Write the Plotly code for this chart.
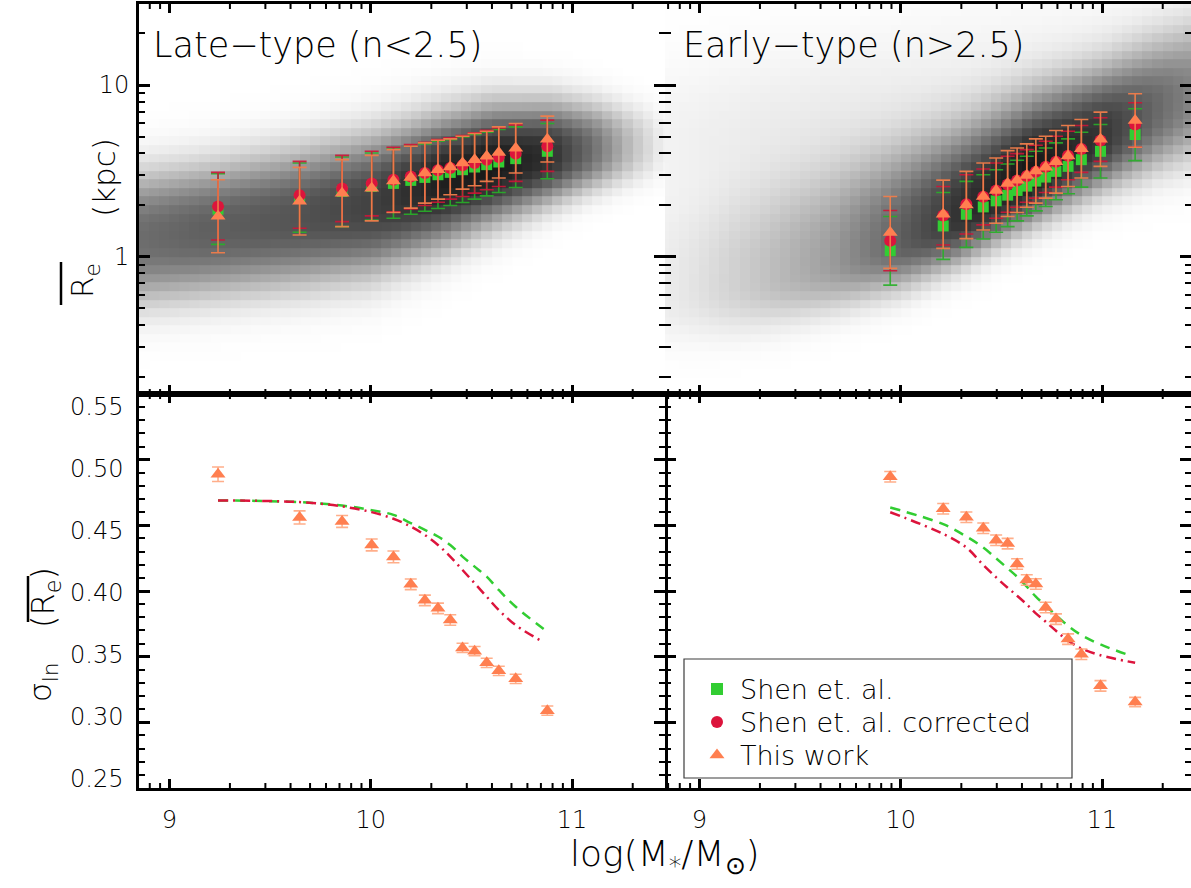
import numpy as np
import plotly.graph_objects as go

FONT = "DejaVu Sans"
WEIGHT = 300

# ---------------- stellar-mass bins, log(M*/Msun) ----------------
late_logm = [9.242, 9.647, 9.858, 10.005, 10.113, 10.199, 10.269, 10.334, 10.395,
             10.456, 10.516, 10.576, 10.636, 10.720, 10.877]
early_logm = [9.948, 10.211, 10.326, 10.410, 10.474, 10.531, 10.578, 10.626, 10.671,
              10.720, 10.771, 10.831, 10.897, 10.992, 11.164]

# ---------------- mean Re (kpc) with lower / upper 1-sigma bounds: late-type ----------------
late_shen = [1.891, 2.203, 2.399, 2.567, 2.673, 2.783, 2.897, 3.003, 3.099, 3.212, 3.330, 3.436, 3.562, 3.726, 4.111]
late_shen_hi = [3.044, 3.514, 3.810, 4.022, 4.244, 4.398, 4.539, 4.705, 4.811, 4.987, 5.147, 5.312, 5.506, 5.707, 5.969]
late_shen_lo = [1.181, 1.388, 1.497, 1.638, 1.676, 1.768, 1.841, 1.909, 1.987, 2.069, 2.164, 2.263, 2.368, 2.532, 2.846]
late_corr = [1.961, 2.284, 2.498, 2.673, 2.808, 2.937, 3.072, 3.184, 3.286, 3.406, 3.514, 3.675, 3.810, 3.985, 4.398]
late_corr_hi = [3.099, 3.594, 3.895, 4.111, 4.339, 4.498, 4.642, 4.811, 4.920, 5.077, 5.263, 5.455, 5.630, 5.862, 6.242]
late_corr_lo = [1.252, 1.465, 1.602, 1.729, 1.825, 1.900, 1.987, 2.078, 2.164, 2.243, 2.346, 2.454, 2.567, 2.746, 3.141]
late_this = [1.722, 2.107, 2.346, 2.509, 2.757, 2.897, 3.072, 3.212, 3.330, 3.514, 3.675, 3.844, 4.040, 4.281, 4.833]
late_this_hi = [2.808, 3.315, 3.675, 3.895, 4.206, 4.398, 4.601, 4.769, 4.855, 5.032, 5.217, 5.383, 5.707, 5.969, 6.588]
late_this_lo = [1.055, 1.339, 1.497, 1.617, 1.808, 1.918, 2.051, 2.164, 2.294, 2.476, 2.590, 2.746, 2.872, 3.072, 3.562]

# ---------------- mean Re (kpc) with lower / upper bounds: early-type ----------------
early_shen = [1.084, 1.511, 1.768, 1.951, 2.116, 2.284, 2.432, 2.578, 2.757, 2.910, 3.141, 3.360, 3.675, 4.111, 5.147]
early_shen_hi = [1.714, 2.368, 2.746, 3.003, 3.212, 3.467, 3.643, 3.844, 4.111, 4.300, 4.601, 4.855, 5.312, 5.888, 7.271]
early_shen_lo = [0.683, 0.965, 1.134, 1.268, 1.388, 1.497, 1.617, 1.729, 1.850, 1.961, 2.145, 2.326, 2.544, 2.872, 3.626]
early_corr = [1.240, 1.737, 2.023, 2.233, 2.432, 2.637, 2.783, 2.950, 3.127, 3.345, 3.577, 3.879, 4.244, 4.748, 5.888]
early_corr_hi = [1.858, 2.567, 3.003, 3.242, 3.514, 3.844, 3.985, 4.206, 4.459, 4.705, 5.032, 5.383, 5.808, 6.442, 7.883]
early_corr_lo = [0.828, 1.170, 1.357, 1.532, 1.676, 1.817, 1.943, 2.078, 2.193, 2.368, 2.544, 2.808, 3.099, 3.594, 4.339]
early_this = [1.384, 1.768, 2.001, 2.243, 2.427, 2.667, 2.789, 2.970, 3.155, 3.322, 3.569, 3.862, 4.253, 4.833, 6.215]
early_this_hi = [2.243, 2.795, 3.141, 3.514, 3.758, 4.148, 4.300, 4.539, 4.855, 5.032, 5.432, 5.808, 6.300, 6.952, 8.897]
early_this_lo = [0.855, 1.119, 1.274, 1.432, 1.566, 1.714, 1.808, 1.943, 2.051, 2.193, 2.346, 2.567, 2.872, 3.360, 4.339]

# ---------------- scatter sigma_ln(Re) ----------------
late_sig_this = [0.4889, 0.4560, 0.4530, 0.4351, 0.4260, 0.4051, 0.3929, 0.3868, 0.3779, 0.3567, 0.3542, 0.3453, 0.3392, 0.3331, 0.3089]
late_sig_err = [0.0055, 0.0050, 0.0045, 0.0045, 0.0045, 0.0040, 0.0040, 0.0040, 0.0040, 0.0035, 0.0035, 0.0035, 0.0035, 0.0035, 0.0035]
early_sig_this = [0.4870, 0.4626, 0.4562, 0.4478, 0.4387, 0.4361, 0.4206, 0.4084, 0.4053, 0.3875, 0.3786, 0.3634, 0.3519, 0.3278, 0.3155]
early_sig_err = [0.0040, 0.0040, 0.0040, 0.0040, 0.0040, 0.0040, 0.0040, 0.0040, 0.0040, 0.0040, 0.0040, 0.0040, 0.0040, 0.0040, 0.0035]

# model curves
late_curve_x = late_logm
late_sig_shen = [0.4690, 0.4677, 0.4651, 0.4616, 0.4580, 0.4517, 0.4466, 0.4415, 0.4351, 0.4262, 0.4186, 0.4109, 0.4008, 0.3880, 0.3690]
late_corr_curve_x = late_logm[:-1] + [10.855]
late_sig_corr = [0.4690, 0.4677, 0.4644, 0.4601, 0.4550, 0.4491, 0.4427, 0.4351, 0.4262, 0.4160, 0.4059, 0.3957, 0.3855, 0.3740, 0.3613]
early_shen_curve_x = early_logm[:-1] + [11.147]
early_sig_shen = [0.4636, 0.4509, 0.4415, 0.4331, 0.4249, 0.4173, 0.4109, 0.4033, 0.3957, 0.3888, 0.3817, 0.3735, 0.3664, 0.3593, 0.3504]
early_curve_x = early_logm
early_sig_corr = [0.4600, 0.4435, 0.4331, 0.4198, 0.4104, 0.4025, 0.3964, 0.3898, 0.3830, 0.3766, 0.3697, 0.3621, 0.3563, 0.3511, 0.3453]

# ---------------- background galaxy density (ridge profile read per mass column) ----------------
# centre (log Re), lower / upper widths (dex) and peak darkness of the grey ridge
late_dens_x = [8.85, 9.15, 9.6, 10.0, 10.35, 10.6, 10.9, 11.1, 11.3, 11.45]
late_dens_c = [0.11, 0.15, 0.22, 0.30, 0.44, 0.53, 0.59, 0.62, 0.64, 0.65]
late_dens_wlo = [0.28, 0.28, 0.29, 0.30, 0.28, 0.25, 0.20, 0.17, 0.15, 0.14]
late_dens_whi = [0.28, 0.28, 0.29, 0.30, 0.28, 0.26, 0.23, 0.20, 0.17, 0.15]
late_dens_a = [0.60, 0.65, 0.70, 0.78, 0.92, 0.95, 0.85, 0.60, 0.25, 0.06]

early_dens_x = [8.85, 9.0, 9.3, 9.65, 10.0, 10.3, 10.65, 11.0, 11.3, 11.45]
early_dens_c = [-0.20, -0.18, -0.12, -0.03, 0.10, 0.24, 0.48, 0.69, 0.86, 0.93]
early_dens_wlo = [0.22, 0.22, 0.22, 0.21, 0.21, 0.20, 0.21, 0.22, 0.25, 0.27]
early_dens_whi = [0.40, 0.40, 0.42, 0.42, 0.40, 0.38, 0.34, 0.30, 0.30, 0.30]
early_dens_a = [0.08, 0.12, 0.24, 0.40, 0.66, 0.85, 0.95, 0.82, 0.58, 0.48]
early_halo_c = [0.70, 0.72, 0.78, 0.85, 0.95, 1.05, 1.15, 1.20, 1.25, 1.25]
early_halo_a = [0.05, 0.06, 0.07, 0.07, 0.06, 0.05, 0.04, 0.04, 0.04, 0.04]

# legend entries
legend_names = ["Shen et. al.", "Shen et. al. corrected", "This work"]

GREEN = "rgb(50,205,50)"
RED = "rgb(220,20,60)"
ORANGE = "rgb(255,127,80)"

# ---------------- layout geometry ----------------
W, H = 1191, 888
ML, MR, MT, MB = 139, 0, 4, 100
PW, PH = W - ML - MR, H - MT - MB
YSPLIT = 0.5025
XSPLIT_PX = ML + 0.5 * PW
YSPLIT_PX = H - MB - YSPLIT * PH


def xp(px):
    return (px - ML) / PW


def yp(py):
    return (H - MB - py) / PH


def density(kx, kc, kwlo, kwhi, ka, hc=None, ha=None):
    xe = np.arange(8.80, 11.5001, 0.05)
    ye = np.arange(-0.85, 1.5001, 0.05)
    xc = 0.5 * (xe[1:] + xe[:-1])
    yc = 0.5 * (ye[1:] + ye[:-1])
    c = np.interp(xc, kx, kc)[None, :]
    wlo = np.interp(xc, kx, kwlo)[None, :]
    whi = np.interp(xc, kx, kwhi)[None, :]
    a = np.interp(xc, kx, ka)[None, :]
    dy = yc[:, None] - c
    d = np.where(dy > 0, dy / whi, -dy / wlo)
    z = a * np.exp(-0.5 * d ** 2.5)
    if hc is not None:
        hcc = np.interp(xc, kx, hc)[None, :]
        haa = np.interp(xc, kx, ha)[None, :]
        z = z + haa * np.exp(-0.5 * ((yc[:, None] - hcc) / 0.3) ** 2)
    return xe, 10 ** ye, np.clip(z, 0, 1)


fig = go.Figure()
GRAY = [[0, "rgb(255,255,255)"], [1, "rgb(12,12,12)"]]

for (kx, kc, kwl, kwh, ka, hc, ha), (xa, ya) in [
    ((late_dens_x, late_dens_c, late_dens_wlo, late_dens_whi, late_dens_a, None, None), ("x", "y")),
    ((early_dens_x, early_dens_c, early_dens_wlo, early_dens_whi, early_dens_a, early_halo_c, early_halo_a), ("x2", "y2")),
]:
    xe, ye, z = density(kx, kc, kwl, kwh, ka, hc, ha)
    fig.add_trace(go.Heatmap(x=xe, y=ye, z=z, colorscale=GRAY, zmin=0, zmax=1,
                             showscale=False, hoverinfo="skip", xaxis=xa, yaxis=ya))


def err_trace(x, y, hi, lo, name, sym, size, col, ecol, xa, ya):
    return go.Scatter(
        x=x, y=y, mode="markers", name=name, showlegend=False,
        marker=dict(symbol=sym, size=size, color=col, opacity=1, line=dict(width=0)),
        error_y=dict(type="data", symmetric=False,
                     array=[h - v for h, v in zip(hi, y)],
                     arrayminus=[v - l for v, l in zip(y, lo)],
                     color=ecol, thickness=1.6, width=7),
        xaxis=xa, yaxis=ya)


for (x, sets), (xa, ya) in [
    ((late_logm, [(late_shen, late_shen_hi, late_shen_lo),
                  (late_corr, late_corr_hi, late_corr_lo),
                  (late_this, late_this_hi, late_this_lo)]), ("x", "y")),
    ((early_logm, [(early_shen, early_shen_hi, early_shen_lo),
                   (early_corr, early_corr_hi, early_corr_lo),
                   (early_this, early_this_hi, early_this_lo)]), ("x2", "y2")),
]:
    (s, sh, sl), (c, ch, cl), (t, th, tl) = sets
    fig.add_trace(err_trace(x, s, sh, sl, legend_names[0], "square", 11, GREEN,
                            "rgba(40,175,40,0.9)", xa, ya))
    fig.add_trace(err_trace(x, c, ch, cl, legend_names[1], "circle", 12, RED,
                            "rgba(205,20,55,0.9)", xa, ya))
    fig.add_trace(err_trace(x, t, th, tl, legend_names[2], "triangle-up", 13, ORANGE,
                            "rgba(240,125,75,0.95)", xa, ya))

# bottom panels
for (cx1, g, cx2, r, x, t, e), (xa, ya) in [
    ((late_curve_x, late_sig_shen, late_corr_curve_x, late_sig_corr, late_logm, late_sig_this, late_sig_err), ("x3", "y3")),
    ((early_shen_curve_x, early_sig_shen, early_curve_x, early_sig_corr, early_logm, early_sig_this, early_sig_err), ("x4", "y4")),
]:
    fig.add_trace(go.Scatter(x=cx1, y=g, mode="lines", showlegend=False,
                             line=dict(color=GREEN, width=2.5, dash="10px,7px", shape="spline"),
                             xaxis=xa, yaxis=ya))
    fig.add_trace(go.Scatter(x=cx2, y=r, mode="lines", showlegend=False,
                             line=dict(color=RED, width=2.5, dash="10px,5px,2px,5px", shape="spline"),
                             xaxis=xa, yaxis=ya))
    fig.add_trace(go.Scatter(x=x, y=t, mode="markers", showlegend=False,
                             marker=dict(symbol="triangle-up", size=13, color=ORANGE, opacity=1),
                             error_y=dict(type="data", array=e, color="rgba(255,165,125,0.9)",
                                          thickness=1.6, width=6),
                             xaxis=xa, yaxis=ya))

# ---------------- axes ----------------
xmaj = [9, 10, 11]
# the mass axes carry logarithmic-style minor ticks at d + log10(k)
xminor = [d + np.log10(k) for d in (8, 9, 10, 11) for k in range(2, 10)]
ytop_maj = [1, 10]
ytop_minor = [k * 10.0 ** d for d in (-1, 0, 1) for k in range(2, 10)]

TF = dict(family=FONT, size=24, color="black", weight=WEIGHT)
BASE = dict(showline=True, linewidth=3, linecolor="black", mirror="allticks", ticks="inside",
            tickwidth=2.5, tickcolor="black", showgrid=False, zeroline=False, tickfont=TF)

xr_left = [8.8496, 11.4613]
xr_right = [8.8297, 11.4414]
ytop_range = [-0.7996, 1.4718]
ybot_range = [0.25, 0.55]
ybot_maj = [0.25, 0.30, 0.35, 0.40, 0.45, 0.50, 0.55]
# the printed 0.25..0.55 labels sit on a slightly compressed scale: 0.25 at 779 px, 0.55 at 407 px
YLAB_PX = (779.0, 406.7)

# ---------------- hand-drawn legend (box at 684..1072 px, rows at 689/722/755 px) ----------------
LEG_ROWS = [689, 722, 755]
LEG_SYM_X = 717


def px_to_x4(px):
    return xr_right[0] + (px - XSPLIT_PX) / (W - MR - XSPLIT_PX) * (xr_right[1] - xr_right[0])


def py_to_y4(py):
    return ybot_range[0] + (H - MB - py) / (H - MB - YSPLIT_PX) * (ybot_range[1] - ybot_range[0])


fig.add_trace(go.Scatter(
    x=[px_to_x4(LEG_SYM_X)] * 3, y=[py_to_y4(r) for r in LEG_ROWS], mode="markers",
    showlegend=False, opacity=1,
    marker=dict(symbol=["square", "circle", "triangle-up"], size=[12, 12, 13],
                color=[GREEN, RED, ORANGE], opacity=1, line=dict(width=0)),
    hoverinfo="skip", xaxis="x4", yaxis="y4"))


def xax(dom, rng, anchor, labels):
    return dict(BASE, domain=dom, range=rng, anchor=anchor, tickmode="array", tickvals=xmaj,
                ticktext=["9", "10", "11"], ticklen=9, showticklabels=labels, ticklabelstandoff=8)


def ytop(dom, anchor, labels):
    return dict(BASE, domain=dom, range=ytop_range, type="log", anchor=anchor, tickmode="array",
                tickvals=ytop_maj, ticktext=["1", "10"], ticklen=11, showticklabels=labels,
                ticklabelstandoff=2,
                minor=dict(tickmode="array", tickvals=ytop_minor, ticks="inside", ticklen=6,
                           tickwidth=2, tickcolor="black"))


def ybot(dom, anchor):
    return dict(BASE, domain=dom, range=ybot_range, anchor=anchor, tickmode="linear",
                tick0=0.25, dtick=0.05, ticklen=11, showticklabels=False,
                minor=dict(tickmode="linear", tick0=0.25, dtick=0.01, ticks="inside", ticklen=6,
                           tickwidth=2, tickcolor="black"))


fig.update_layout(
    width=W, height=H, margin=dict(l=ML, r=MR, t=MT, b=MB),
    paper_bgcolor="white", plot_bgcolor="white",
    font=dict(family=FONT, color="black", weight=WEIGHT),
    xaxis=xax([0, 0.5], xr_left, "y", False),
    xaxis2=xax([0.5, 1], xr_right, "y2", False),
    xaxis3=xax([0, 0.5], xr_left, "y3", True),
    xaxis4=xax([0.5, 1], xr_right, "y4", True),
    yaxis=ytop([YSPLIT, 1], "x", True),
    yaxis2=dict(ytop([YSPLIT, 1], "x2", False), showline=False),
    yaxis3=ybot([0, YSPLIT], "x3"),
    yaxis4=dict(ybot([0, YSPLIT], "x4"), showline=False),
    showlegend=False,
)

ann = [
    dict(text="Late\u2212type (n<2.5)", x=xp(151), y=yp(45), xanchor="left", yanchor="middle",
         font=dict(size=35)),
    dict(text="Early\u2212type (n>2.5)", x=xp(681), y=yp(45), xanchor="left", yanchor="middle",
         font=dict(size=35)),
    dict(text="log(M<sub>*</sub>/M<sub>\u2299</sub>)", x=xp(665), y=yp(856), xanchor="center",
         yanchor="middle", font=dict(size=36)),
    dict(text="(kpc)", x=xp(104), y=yp(178), textangle=-90, xanchor="center", yanchor="middle",
         font=dict(size=31)),
    dict(text="R<sub>e</sub>", x=xp(84), y=yp(281), textangle=-90, xanchor="center",
         yanchor="middle", font=dict(size=31)),
    dict(text="\u03c3<sub>ln</sub>", x=xp(42), y=yp(683), textangle=-90, xanchor="center",
         yanchor="middle", font=dict(size=31)),
    dict(text="(R<sub>e</sub>)", x=xp(45), y=yp(598), textangle=-90, xanchor="center",
         yanchor="middle", font=dict(size=32)),
]
for name, row in zip(legend_names, LEG_ROWS):
    ann.append(dict(text=name, x=xp(738), y=yp(row), xanchor="left", yanchor="middle",
                    font=dict(size=27)))
# y tick labels of the lower-left panel
for v in ybot_maj:
    py = YLAB_PX[0] + (v - ybot_range[0]) / (ybot_range[1] - ybot_range[0]) * (YLAB_PX[1] - YLAB_PX[0])
    ann.append(dict(text="%.2f" % v, x=xp(125), y=yp(py), xanchor="right", yanchor="middle",
                    font=dict(size=24)))
for a in ann:
    a.update(xref="paper", yref="paper", showarrow=False)
    a["font"] = dict(family=FONT, color="black", weight=WEIGHT, **a["font"])
fig.update_layout(annotations=ann)

shapes = [
    dict(type="line", xref="paper", yref="paper", x0=xp(61), x1=xp(61), y0=yp(262), y1=yp(305),
         line=dict(color="black", width=2.5)),
    dict(type="line", xref="paper", yref="paper", x0=xp(28), x1=xp(28), y0=yp(576), y1=yp(622),
         line=dict(color="black", width=2.5)),
    dict(type="rect", xref="paper", yref="paper", x0=xp(684), x1=xp(1072), y0=yp(778), y1=yp(659),
         line=dict(color="rgb(60,60,60)", width=1.2), fillcolor="white", layer="below"),
]
# minor mass ticks, pointing inward from the bottom and top edge of every panel
for xa, ya, rng in [("x", "y", xr_left), ("x2", "y2", xr_right),
                    ("x3", "y3", xr_left), ("x4", "y4", xr_right)]:
    for v in xminor:
        if not (rng[0] < v < rng[1]):
            continue
        for anchor, ln in ((0, 5), (1, -5)):
            shapes.append(dict(type="line", xref=xa, yref=ya + " domain", x0=v, x1=v,
                               ysizemode="pixel", yanchor=anchor, y0=0, y1=ln,
                               line=dict(color="black", width=2), layer="above"))
fig.update_layout(shapes=shapes)

fig.write_html("out.html", config={"displayModeBar": False},
               post_script="document.body.style.margin='0px';")
